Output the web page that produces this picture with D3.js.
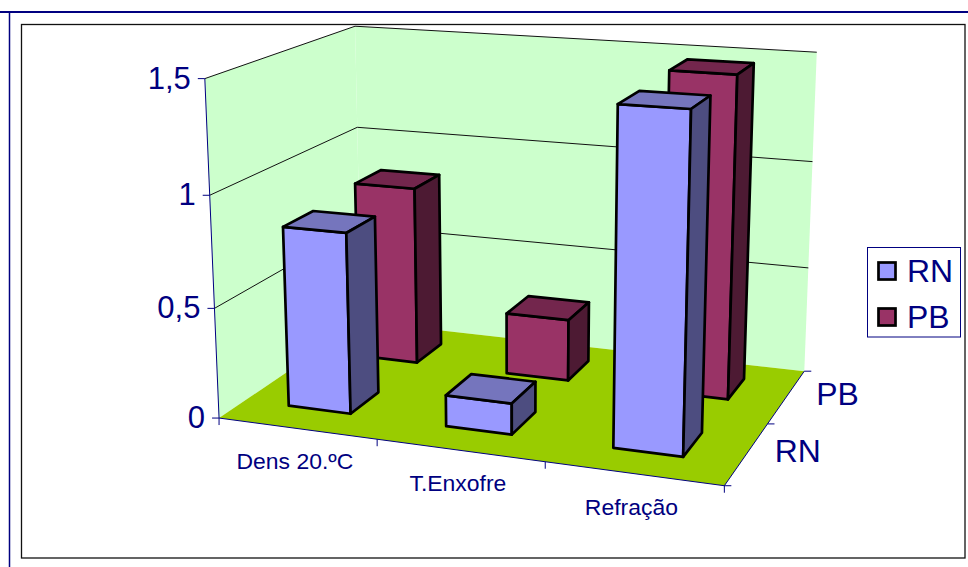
<!DOCTYPE html>
<html><head><meta charset="utf-8"><style>html,body{margin:0;background:#fff}</style>
<script src="https://cdn.jsdelivr.net/npm/d3@7"></script></head><body><svg id="c" width="968" height="567"></svg>
<script>
const categories=["Dens 20.ºC","T.Enxofre","Refração"];
const seriesNames=["RN","PB"];
const rnValues=[0.82,0.14,1.46];
const pbValues=[0.845,0.29,1.47];
const yTicks=[0,0.5,1,1.5];
const yTickLabels=["0","0,5","1","1,5"];
// Homogeneous camera matrix for the unit box (X categories, Y values, Z series)
const P=[0.44053,-0.02347,0.19930,0.21906,0.02424,-0.34299,-0.04590,0.41806,-0.08941,-0.04506,0.15730];
const project=(X,Y,Z)=>{const w=P[8]*X+P[9]*Y+P[10]*Z+1;return[1000*(P[0]*X+P[1]*Y+P[2]*Z+P[3])/w,1000*(P[4]*X+P[5]*Y+P[6]*Z+P[7])/w];};
const svg=d3.select("#c");
const navy="#000080";
const xBand=d3.scaleBand().domain(categories).range([-0.005,0.995]).paddingInner(.6).paddingOuter(.3);
const zBand=d3.scaleBand().domain(seriesNames).range([0.015,1.015]).paddingInner(.6).paddingOuter(.3);
const yS=d3.scaleLinear().domain([0,1.5]).range([0,1]);
const poly=(pts,fill,stroke,sw)=>svg.append("polygon").attr("points",pts.map(p=>project(...p).join(",")).join(" ")).attr("fill",fill).attr("stroke",stroke||"none").attr("stroke-width",sw||0).attr("stroke-linejoin","round");
const seg=(a,b,c,sw)=>{const p=project(...a),q=project(...b);svg.append("line").attr("x1",p[0]).attr("y1",p[1]).attr("x2",q[0]).attr("y2",q[1]).attr("stroke",c).attr("stroke-width",sw||1);};
const label=(x,y,size,sx,anchor,str)=>svg.append("text").attr("transform",`translate(${x},${y}) scale(${sx},1)`).attr("text-anchor",anchor).attr("font-family","Liberation Sans").attr("font-size",size).attr("fill",navy).text(str);
// page rule and chart frame
svg.append("line").attr("x1",0).attr("x2",968).attr("y1",12).attr("y2",12).attr("stroke",navy).attr("stroke-width",2);
svg.append("line").attr("x1",9.5).attr("x2",9.5).attr("y1",12).attr("y2",567).attr("stroke",navy).attr("stroke-width",1.5);
svg.append("rect").attr("x",21.5).attr("y",24.5).attr("width",943.5).attr("height",533.5).attr("fill","#fff").attr("stroke","#111").attr("stroke-width",1.3);
// walls and floor
poly([[0,0,0],[0,1,0],[0,1,1],[0,0,1]],"#CCFFCC");
poly([[0,0,1],[0,1,1],[1,1,1],[1,0,1]],"#CCFFCC");
poly([[0,0,0],[1,0,0],[1,0,1],[0,0,1]],"#99CC00");
yTicks.slice(1).forEach(v=>{const t=yS(v);seg([0,t,0],[0,t,1],"#111");seg([0,t,1],[1,t,1],"#111");});
seg([0,0,0],[0,1,0],navy);seg([0,0,0],[1,0,0],navy);seg([1,0,0],[1,0,1],navy);
// axes
yTicks.forEach((v,i)=>{const p=project(0,yS(v),0);
 svg.append("line").attr("x1",p[0]-7).attr("x2",p[0]).attr("y1",p[1]).attr("y2",p[1]).attr("stroke",navy);
 label(p[0]-14,p[1]+10,31,1,"end",yTickLabels[i]);});
[0,1/3,2/3,1].forEach(t=>{const p=project(t,0,0);svg.append("line").attr("x1",p[0]).attr("x2",p[0]).attr("y1",p[1]).attr("y2",p[1]+7).attr("stroke",navy);});
[0,.5,1].forEach(t=>{const p=project(1,0,t);svg.append("line").attr("x1",p[0]).attr("x2",p[0]+7).attr("y1",p[1]).attr("y2",p[1]).attr("stroke",navy);});
categories.forEach((c,i)=>{const p=project((i+.5)/3,0,0);label(p[0]-2,p[1]+41,22.5,1.02,"middle",c);});
seriesNames.forEach((s,i)=>{const p=project(1,0,(i+.5)/2);label(p[0]+51,p[1]+8.5,31,1.03,"middle",s);});
// bars, rear series first
const styles={RN:["#9999FF","#7575BD","#4D4D80"],PB:["#993366","#73264D","#4D1A33"]};
const vals={RN:rnValues,PB:pbValues};
["PB","RN"].forEach(s=>categories.forEach((c,i)=>{
 const x0=xBand(c),x1=x0+xBand.bandwidth(),z0=zBand(s),z1=z0+zBand.bandwidth(),t=yS(vals[s][i]),st=styles[s];
 poly([[x0,0,z0],[x0,t,z0],[x1,t,z0],[x1,0,z0]],st[0],"#000",2.7);
 poly([[x0,t,z0],[x0,t,z1],[x1,t,z1],[x1,t,z0]],st[1],"#000",2.7);
 poly([[x1,0,z0],[x1,t,z0],[x1,t,z1],[x1,0,z1]],st[2],"#000",2.7);
}));
// legend
svg.append("rect").attr("x",867.5).attr("y",247.5).attr("width",93).attr("height",89.5).attr("fill","#fff").attr("stroke",navy);
seriesNames.forEach((s,i)=>{const y=i?317:271;
 svg.append("rect").attr("x",878.5).attr("y",y-8.5).attr("width",17).attr("height",17).attr("fill",styles[s][0]).attr("stroke","#000").attr("stroke-width",2.7);
 label(907,y+11.3,31,1.03,"start",s);});
</script></body></html>
